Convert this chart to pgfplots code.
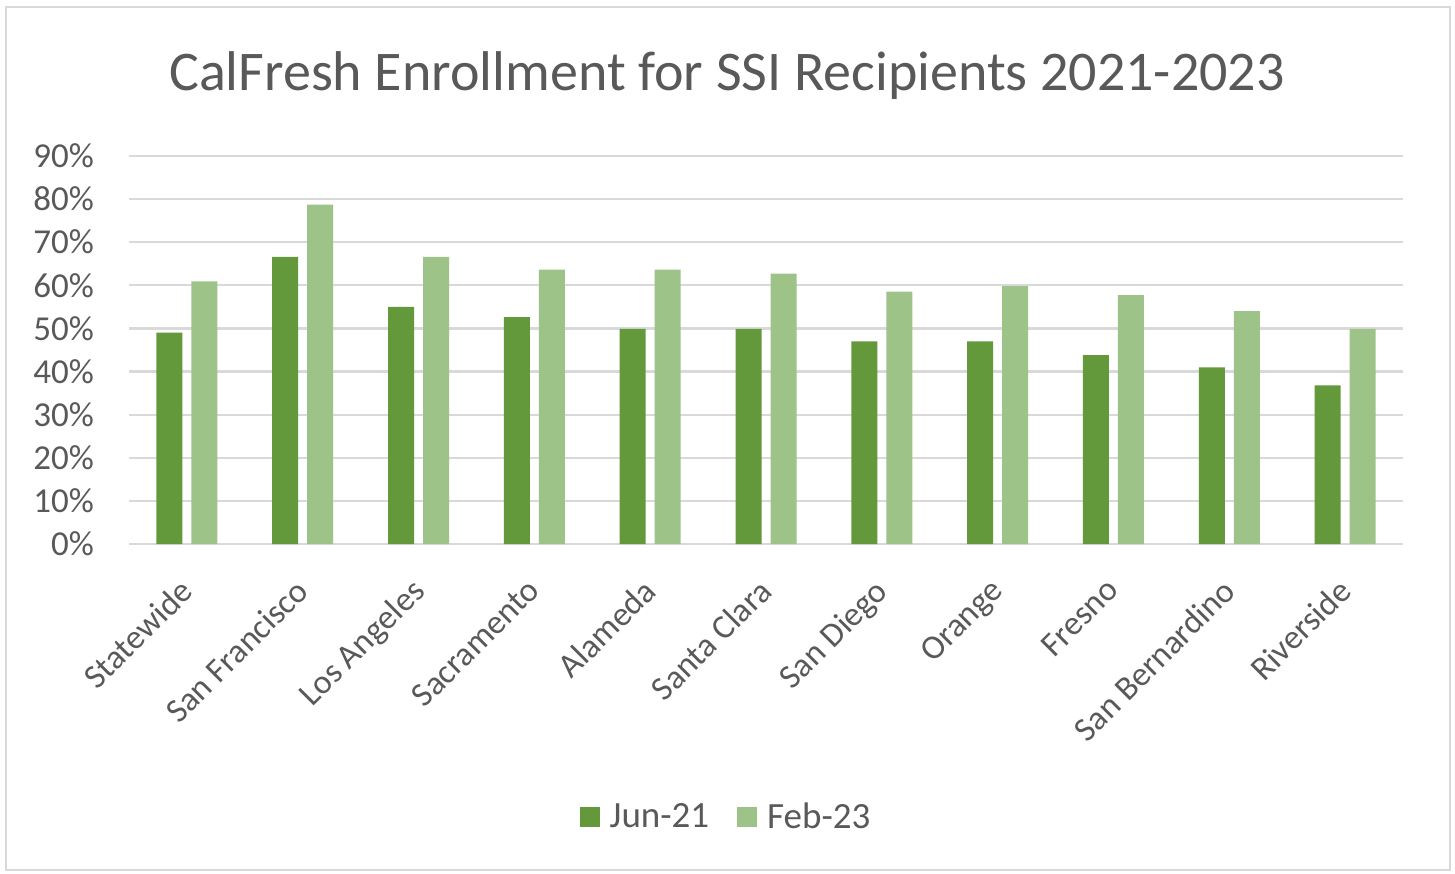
\documentclass[border=0pt]{standalone}
\usepackage{pgfplots}
\pgfplotsset{compat=1.18}
\usepackage{fontspec}
\setmainfont{Carlito}
\definecolor{darkg}{RGB}{99,153,58}
\definecolor{lightg}{RGB}{158,195,137}
\definecolor{gridg}{RGB}{217,217,217}
\definecolor{txt}{RGB}{89,89,89}
\begin{document}
\begin{tikzpicture}[x=1pt,y=1pt]
\path[use as bounding box] (0,0) rectangle (727.5,436.5);
\draw[gridg,line width=1pt] (3,1.5) rectangle (725,433);
\node[txt,font=\fontsize{28}{33}\selectfont] at (363.5,398.5) {CalFresh Enrollment for SSI Recipients 2021-2023};
\begin{axis}[
  at={(64.5pt,164.4pt)}, anchor=south west,
  scale only axis, width=637pt, height=194.2pt,
  ymin=0, ymax=90, ytick={0,10,...,90},
  yticklabel={\pgfmathprintnumber{\tick}\%},
  xmin=-0.5, xmax=10.5,
  xtick=data,
  xticklabels={Statewide,San Francisco,Los Angeles,Sacramento,Alameda,Santa Clara,San Diego,Orange,Fresno,San Bernardino,Riverside},
  x tick label style={rotate=45, anchor=north east, xshift=-11.1pt, yshift=-4.9pt, font=\fontsize{17}{20}\selectfont, text=txt},
  y tick label style={font=\fontsize{17.5}{20}\selectfont, text=txt, xshift=-14pt},
  /pgf/number format/assume math mode=true,
  major tick length=0pt,
  axis line style={draw=none},
  ymajorgrids, grid style={gridg, line width=1.2pt},
  ybar=4.5pt, bar width=13pt,
  legend style={at={(0.4694,-0.7024)}, anchor=center, draw=none, fill=none,
    legend columns=2, font=\fontsize{18.5}{22}\selectfont, text=txt,
    /tikz/every odd column/.append style={column sep=3pt},
    /tikz/every even column/.append style={column sep=12pt}},
  legend image code/.code={\fill[#1] (0pt,-5pt) rectangle (10pt,5pt);},
  legend cell align=left,
]
\addplot[fill=darkg, draw=none] coordinates {(0,49) (1,66.6) (2,55) (3,52.6) (4,49.9) (5,49.9) (6,47) (7,47) (8,43.8) (9,41) (10,36.8)};
\addplot[fill=lightg, draw=none] coordinates {(0,60.9) (1,78.7) (2,66.6) (3,63.6) (4,63.6) (5,62.7) (6,58.5) (7,59.8) (8,57.7) (9,54) (10,49.9)};
\legend{Jun-21,Feb-23}
\end{axis}
\end{tikzpicture}
\end{document}
